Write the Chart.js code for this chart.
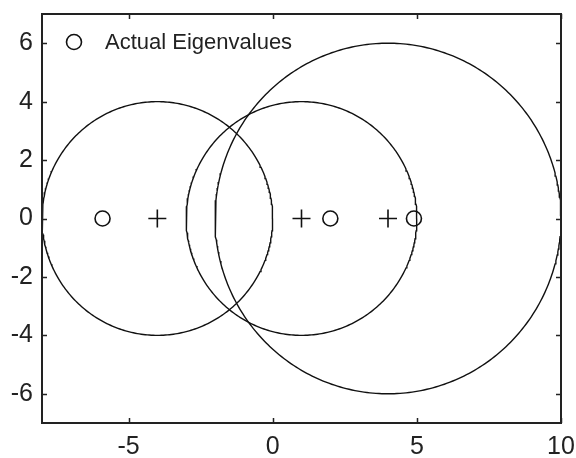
<!DOCTYPE html>
<html lang="en">
<head>
  <meta charset="UTF-8">
  <title>Gershgorin Discs</title>
  <script src="https://cdn.jsdelivr.net/npm/chart.js"></script>
<style>
  html, body { margin: 0; padding: 0; background: #ffffff; }
  .chart-box { position: relative; width: 576px; height: 458px; }
</style>
</head>
<body>
  <div class="chart-box">
    <canvas id="chart"></canvas>
  </div>
  <script>
    // disc centres (matrix diagonal) and radii (row sums of off-diagonal terms)
    var centers = [-4, 1, 4];
    var radii = [4, 4, 6];
    var eigenvalues = [-5.9, 2.0, 4.9];
    var legendLabel = "Actual Eigenvalues";

    var xTicks = [-5, 0, 5, 10];
    var yTicks = [-6, -4, -2, 0, 2, 4, 6];

    var tickFont = "'Liberation Sans', Arial, sans-serif";

    // outline of each disc as a closed line
    function discOutline(c, r) {
      var pts = [];
      for (var i = 0; i <= 360; i++) {
        var a = i * Math.PI / 180;
        pts.push({ x: c + r * Math.cos(a), y: r * Math.sin(a) });
      }
      return pts;
    }

    var datasets = [];
    for (var i = 0; i < centers.length; i++) {
      datasets.push({
        label: "disc " + (i + 1),
        data: discOutline(centers[i], radii[i]),
        showLine: true,
        borderColor: "#111",
        borderWidth: 1.4,
        pointRadius: 0,
        fill: false
      });
    }
    datasets.push({
      label: "centres",
      data: centers.map(function (c) { return { x: c, y: 0 }; }),
      pointStyle: "cross",
      pointRadius: 9,
      borderColor: "#111",
      borderWidth: 1.6,
      showLine: false
    });
    datasets.push({
      label: legendLabel,
      data: eigenvalues.map(function (v) { return { x: v, y: 0 }; }),
      pointStyle: "circle",
      pointRadius: 7.5,
      backgroundColor: "rgba(0,0,0,0)",
      borderColor: "#111",
      borderWidth: 1.6,
      showLine: false
    });

    // box round the axes, inward tick marks, legend entry
    var axesBox = {
      id: "axesBox",
      afterDatasetsDraw: function (chart) {
        var ctx = chart.ctx;
        var a = chart.chartArea;
        var xs = chart.scales.x, ys = chart.scales.y;
        var len = 5;
        ctx.save();
        ctx.strokeStyle = "#222";
        ctx.lineWidth = 1.5;
        ctx.beginPath();
        xs.ticks.forEach(function (t) {
          var px = Math.round(xs.getPixelForValue(t.value)) + 0.5;
          ctx.moveTo(px, a.bottom); ctx.lineTo(px, a.bottom - len);
          ctx.moveTo(px, a.top); ctx.lineTo(px, a.top + len);
        });
        ys.ticks.forEach(function (t) {
          var py = Math.round(ys.getPixelForValue(t.value)) + 0.5;
          ctx.moveTo(a.left, py); ctx.lineTo(a.left + len, py);
          ctx.moveTo(a.right, py); ctx.lineTo(a.right - len, py);
        });
        ctx.stroke();
        ctx.lineWidth = 2;
        ctx.strokeRect(a.left, a.top, a.right - a.left, a.bottom - a.top);

        // legend
        var lx = a.left + 32, ly = a.top + 28;
        ctx.lineWidth = 1.6;
        ctx.strokeStyle = "#111";
        ctx.fillStyle = "rgba(0,0,0,0)";
        Chart.helpers.drawPoint(ctx, { pointStyle: "circle", radius: 7.5, rotation: 0, borderWidth: 1.6 }, lx, ly);
        ctx.fillStyle = "#222";
        ctx.font = "22px 'Liberation Sans', Arial, sans-serif";
        ctx.textBaseline = "middle";
        ctx.textAlign = "left";
        ctx.fillText(legendLabel, a.left + 63, ly + 1);
        ctx.restore();
      }
    };

    new Chart(document.getElementById("chart"), {
      type: "scatter",
      data: { datasets: datasets },
      options: {
        responsive: true,
        maintainAspectRatio: false,
        animation: false,
        layout: { padding: { top: 14, right: 15, left: 0, bottom: 0 } },
        plugins: {
          legend: { display: false },
          tooltip: { enabled: false }
        },
        scales: {
          x: {
            type: "linear",
            min: -8,
            max: 10,
            afterBuildTicks: function (scale) {
              scale.ticks = xTicks.map(function (v) { return { value: v }; });
            },
            afterFit: function (scale) {
              scale.height = 35;
              scale.paddingLeft = 0;
              scale.paddingRight = 0;
            },
            grid: { drawOnChartArea: false, drawTicks: false },
            border: { display: false },
            ticks: {
              color: "#222",
              padding: 9,
              maxRotation: 0,
              font: { family: tickFont, size: 25 }
            }
          },
          y: {
            type: "linear",
            min: -7,
            max: 7,
            afterBuildTicks: function (scale) {
              scale.ticks = yTicks.map(function (v) { return { value: v }; });
            },
            afterFit: function (scale) {
              scale.width = 42;
              scale.paddingTop = 0;
              scale.paddingBottom = 0;
            },
            grid: { drawOnChartArea: false, drawTicks: false },
            border: { display: false },
            ticks: {
              color: "#222",
              padding: 9,
              font: { family: tickFont, size: 25 }
            }
          }
        }
      },
      plugins: [axesBox]
    });
  </script>
</body>
</html>
